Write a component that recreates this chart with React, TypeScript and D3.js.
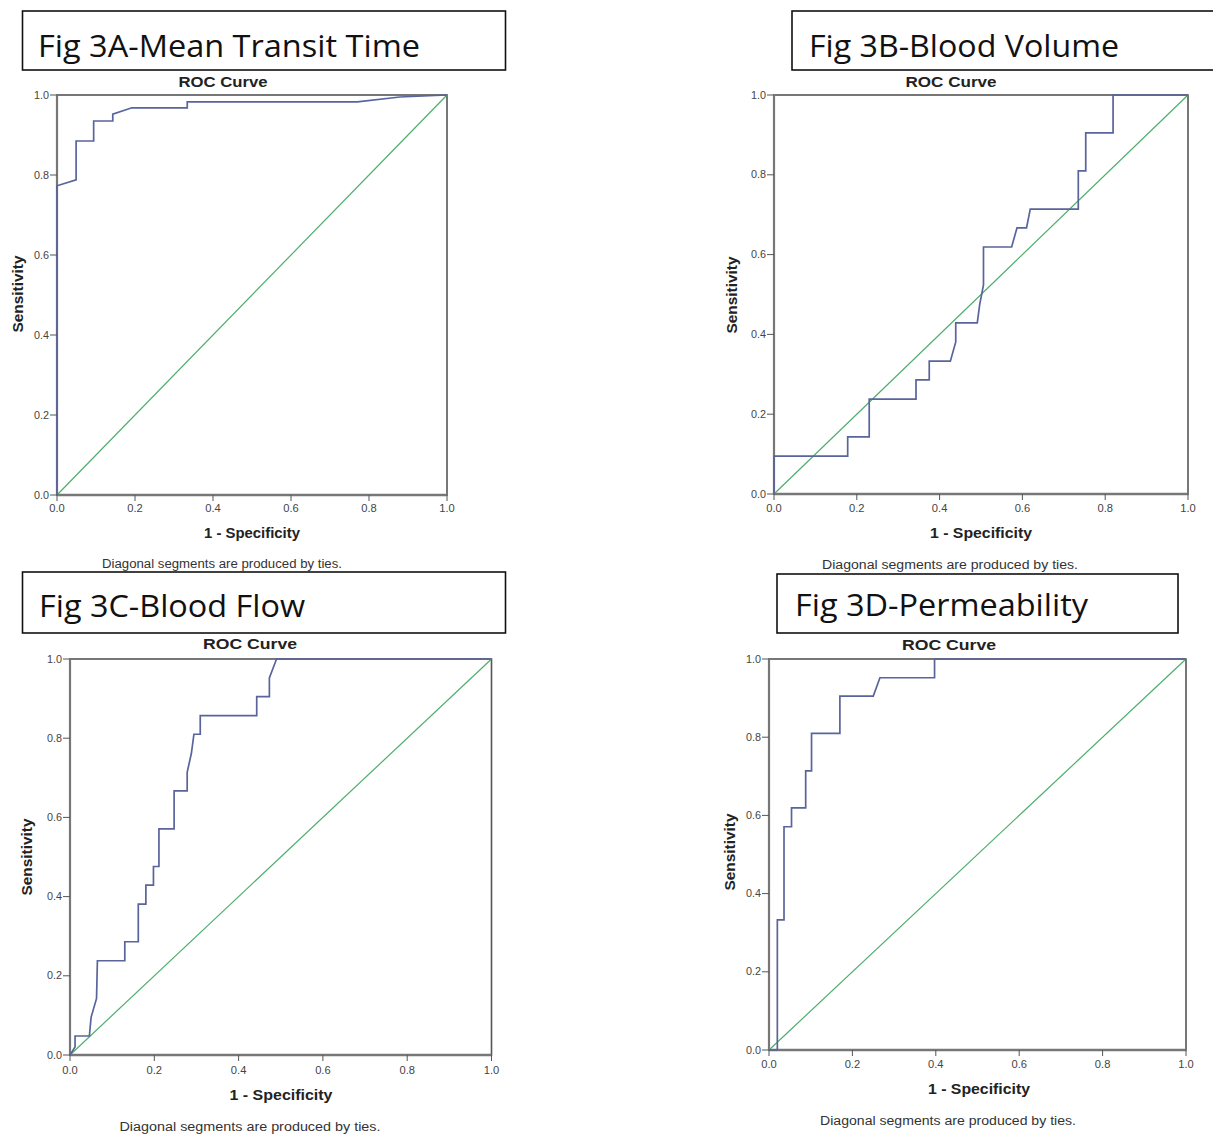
import React from "react";
import * as d3 from "d3";

// ---------- data ----------
const tickValues = [0, 0.2, 0.4, 0.6, 0.8, 1.0];

// Fig 3A - Mean Transit Time
const mttFpr = [0, 0, 0.049, 0.049, 0.094, 0.094, 0.143, 0.143, 0.192, 0.334, 0.334, 0.77, 0.879, 1];
const mttTpr = [0, 0.773, 0.788, 0.885, 0.885, 0.935, 0.935, 0.952, 0.968, 0.968, 0.983, 0.983, 0.995, 1];

// Fig 3B - Blood Volume
const bvFpr = [0, 0, 0.178, 0.178, 0.23, 0.23, 0.343, 0.343, 0.375, 0.375, 0.426, 0.439, 0.439, 0.491, 0.497, 0.506, 0.506, 0.574, 0.587, 0.61, 0.619, 0.735, 0.735, 0.753, 0.753, 0.819, 0.819, 1];
const bvTpr = [0, 0.095, 0.095, 0.143, 0.143, 0.238, 0.238, 0.286, 0.286, 0.333, 0.333, 0.381, 0.429, 0.429, 0.476, 0.524, 0.619, 0.619, 0.667, 0.667, 0.714, 0.714, 0.81, 0.81, 0.905, 0.905, 1, 1];

// Fig 3C - Blood Flow
const bfFpr = [0, 0.012, 0.012, 0.046, 0.05, 0.063, 0.065, 0.13, 0.13, 0.162, 0.162, 0.18, 0.18, 0.198, 0.198, 0.211, 0.211, 0.247, 0.247, 0.278, 0.278, 0.288, 0.294, 0.309, 0.309, 0.443, 0.443, 0.473, 0.473, 0.49, 1];
const bfTpr = [0, 0.02, 0.048, 0.048, 0.095, 0.143, 0.238, 0.238, 0.286, 0.286, 0.381, 0.381, 0.429, 0.429, 0.476, 0.476, 0.571, 0.571, 0.667, 0.667, 0.714, 0.762, 0.81, 0.81, 0.857, 0.857, 0.905, 0.905, 0.952, 1, 1];

// Fig 3D - Permeability
const pmFpr = [0, 0.02, 0.02, 0.036, 0.036, 0.054, 0.054, 0.088, 0.088, 0.102, 0.102, 0.17, 0.17, 0.25, 0.266, 0.397, 0.397, 1];
const pmTpr = [0, 0, 0.333, 0.333, 0.571, 0.571, 0.619, 0.619, 0.714, 0.714, 0.81, 0.81, 0.905, 0.905, 0.952, 0.952, 1, 1];

const chartTitle = "ROC Curve";
const xLabel = "1 - Specificity";
const yLabel = "Sensitivity";
const footnote = "Diagonal segments are produced by ties.";

// ---------- layout ----------
const panels = [
  {
    key: "A", title: "Fig 3A-Mean Transit Time", fpr: mttFpr, tpr: mttTpr,
    box: { x: 22.5, y: 11, w: 483, h: 59 }, titleX: 38, titleLen: 382, titleY: 57,
    plot: { x0: 57, x1: 447, y0: 495, y1: 95 },
    roc: { x: 223, y: 87, len: 89 }, sens: { x: 23, y: 294, len: 77 },
    spec: { x: 252, y: 538, len: 96 }, diag: { x: 222, y: 568, len: 240 }, tickY: 512,
  },
  {
    key: "B", title: "Fig 3B-Blood Volume", fpr: bvFpr, tpr: bvTpr,
    box: { x: 792, y: 11, w: 440, h: 59 }, titleX: 809, titleLen: 310, titleY: 57,
    plot: { x0: 774, x1: 1188, y0: 494, y1: 95 },
    roc: { x: 951, y: 87, len: 91 }, sens: { x: 737, y: 295, len: 77 },
    spec: { x: 981, y: 538, len: 102 }, diag: { x: 950, y: 569, len: 256 }, tickY: 512,
  },
  {
    key: "C", title: "Fig 3C-Blood Flow", fpr: bfFpr, tpr: bfTpr,
    box: { x: 22.5, y: 572, w: 483, h: 61 }, titleX: 39, titleLen: 266, titleY: 617,
    plot: { x0: 70, x1: 491.5, y0: 1055, y1: 659 },
    roc: { x: 250, y: 649, len: 94 }, sens: { x: 32, y: 857, len: 77 },
    spec: { x: 281, y: 1100, len: 103 }, diag: { x: 250, y: 1131, len: 261 }, tickY: 1074,
  },
  {
    key: "D", title: "Fig 3D-Permeability", fpr: pmFpr, tpr: pmTpr,
    box: { x: 777, y: 574, w: 401, h: 59 }, titleX: 795, titleLen: 293, titleY: 616,
    plot: { x0: 769, x1: 1186, y0: 1050, y1: 659 },
    roc: { x: 949, y: 650, len: 94 }, sens: { x: 735, y: 852, len: 77 },
    spec: { x: 979, y: 1094, len: 102 }, diag: { x: 948, y: 1125, len: 256 }, tickY: 1068,
  },
];

const SPSS_FONT = "'Liberation Sans', Arial, sans-serif";
const TITLE_FONT = "'Open Sans', Lato, sans-serif";
const fmt = d3.format(".1f");

function Panel({ p }: { p: (typeof panels)[number] }) {
  const x = d3.scaleLinear().domain([0, 1]).range([p.plot.x0, p.plot.x1]);
  const y = d3.scaleLinear().domain([0, 1]).range([p.plot.y0, p.plot.y1]);
  const pts: [number, number][] = p.fpr.map((f, i) => [f, p.tpr[i]]);
  const line = d3.line<[number, number]>().x((d) => x(d[0])).y((d) => y(d[1]));
  const diagPath = line([[0, 0], [1, 1]]) || "";
  const curvePath = line(pts) || "";
  return (
    <g>
      <rect x={p.box.x} y={p.box.y} width={p.box.w} height={p.box.h} fill="#fff" stroke="#111" strokeWidth={1.6} />
      <text x={p.titleX} y={p.titleY} fontFamily={TITLE_FONT} fontSize={31} fill="#111" textLength={p.titleLen} lengthAdjust="spacingAndGlyphs">
        {p.title}
      </text>
      <text x={p.roc.x} y={p.roc.y} textAnchor="middle" fontFamily={SPSS_FONT} fontWeight="bold" fontSize={15} fill="#222" textLength={p.roc.len} lengthAdjust="spacingAndGlyphs">
        {chartTitle}
      </text>
      {/* frame */}
      <rect x={p.plot.x0} y={p.plot.y1} width={p.plot.x1 - p.plot.x0} height={p.plot.y0 - p.plot.y1} fill="none" stroke="#555" strokeWidth={1.6} />
      <line x1={p.plot.x0} x2={p.plot.x0} y1={p.plot.y1} y2={p.plot.y0} stroke="#777" strokeWidth={2.2} />
      <line x1={p.plot.x0} x2={p.plot.x1} y1={p.plot.y0} y2={p.plot.y0} stroke="#777" strokeWidth={2.4} />
      {/* diagonal reference */}
      <path d={diagPath} fill="none" stroke="#4cae6c" strokeWidth={1.2} />
      {/* ROC curve */}
      <path d={curvePath} fill="none" stroke="#5a649c" strokeWidth={1.7} />
      {/* y ticks */}
      {tickValues.map((t) => (
        <g key={"y" + t}>
          <line x1={p.plot.x0 - 7} x2={p.plot.x0} y1={y(t)} y2={y(t)} stroke="#555" strokeWidth={1} />
          <text x={p.plot.x0 - 8} y={y(t) + 3.5} textAnchor="end" fontFamily={SPSS_FONT} fontSize={10} fill="#444" textLength={15} lengthAdjust="spacingAndGlyphs">
            {fmt(t)}
          </text>
        </g>
      ))}
      {/* x ticks */}
      {tickValues.map((t) => (
        <g key={"x" + t}>
          <line x1={x(t)} x2={x(t)} y1={p.plot.y0} y2={p.plot.y0 + 6} stroke="#555" strokeWidth={1} />
          <text x={x(t)} y={p.tickY} textAnchor="middle" fontFamily={SPSS_FONT} fontSize={10} fill="#444" textLength={15.5} lengthAdjust="spacingAndGlyphs">
            {fmt(t)}
          </text>
        </g>
      ))}
      <text x={p.spec.x} y={p.spec.y} textAnchor="middle" fontFamily={SPSS_FONT} fontWeight="bold" fontSize={14} fill="#222" textLength={p.spec.len} lengthAdjust="spacingAndGlyphs">
        {xLabel}
      </text>
      <text transform={`translate(${p.sens.x},${p.sens.y}) rotate(-90)`} textAnchor="middle" fontFamily={SPSS_FONT} fontWeight="bold" fontSize={14} fill="#222" textLength={p.sens.len} lengthAdjust="spacingAndGlyphs">
        {yLabel}
      </text>
      <text x={p.diag.x} y={p.diag.y} textAnchor="middle" fontFamily={SPSS_FONT} fontSize={12} fill="#333" textLength={p.diag.len} lengthAdjust="spacingAndGlyphs">
        {footnote}
      </text>
    </g>
  );
}

export default function App() {
  return (
    <svg width={1213} height={1135} viewBox="0 0 1213 1135" style={{ position: "absolute", left: 0, top: 0, background: "#fff" }}>
      <rect x={0} y={0} width={1213} height={1135} fill="#fff" />
      {panels.map((p) => (
        <Panel key={p.key} p={p} />
      ))}
    </svg>
  );
}
